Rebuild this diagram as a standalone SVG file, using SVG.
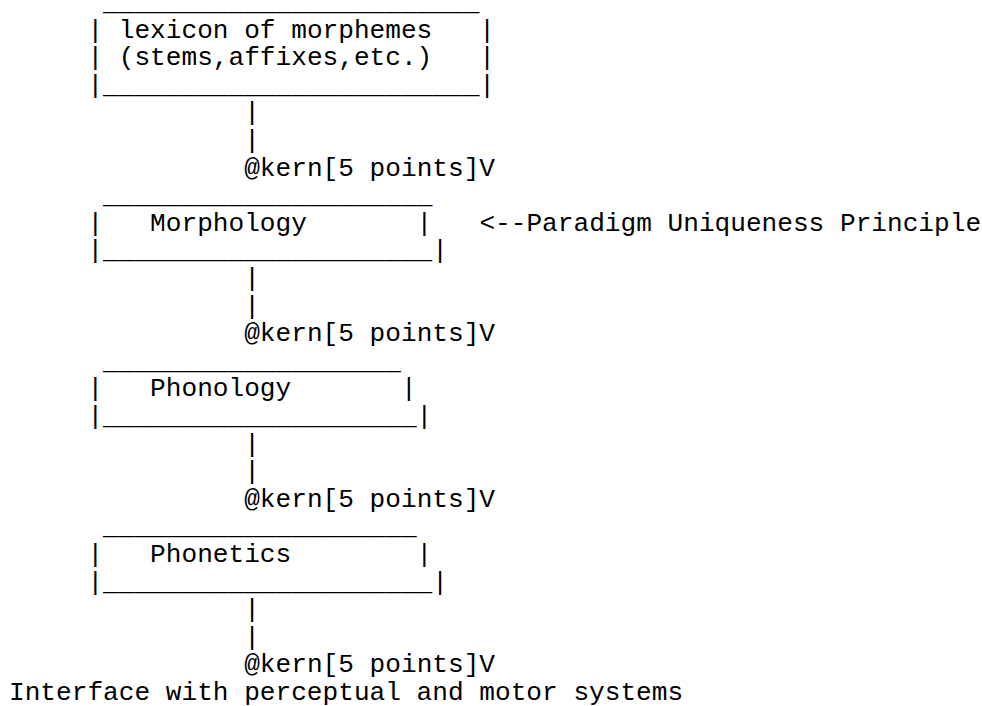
<svg xmlns="http://www.w3.org/2000/svg" width="982" height="706" viewBox="0 0 982 706">
<style>
text { font-family: "Liberation Mono", "Courier New", monospace; font-size: 26.13px; fill: #000; white-space: pre; }
</style>
<rect x="0" y="0" width="982" height="706" fill="#fff"/>
<g id="lexicon">
<text x="103.08" y="10">________________________</text>
<text x="87.4" y="37.6" xml:space="preserve">| lexicon of morphemes   |</text>
<text x="87.4" y="65.2" xml:space="preserve">| (stems,affixes,etc.)   |</text>
<text x="87.4" y="92.8">|________________________|</text>
</g>
<g id="morphology">
<text x="103.08" y="203.2">_____________________</text>
<text x="87.4" y="230.8" xml:space="preserve">|   Morphology       |</text>
<text x="87.4" y="258.4">|_____________________|</text>
</g>
<g id="principle">
<text x="479.4" y="230.8">&lt;--Paradigm Uniqueness Principle</text>
</g>
<g id="phonology">
<text x="103.08" y="368.8">___________________</text>
<text x="87.4" y="396.4" xml:space="preserve">|   Phonology       |</text>
<text x="87.4" y="424">|____________________|</text>
</g>
<g id="phonetics">
<text x="103.08" y="534.4">____________________</text>
<text x="87.4" y="562" xml:space="preserve">|   Phonetics        |</text>
<text x="87.4" y="589.6">|_____________________|</text>
</g>
<g id="interface">
<text x="9" y="700">Interface with perceptual and motor systems</text>
</g>
<g id="connectors">
<text x="244.2" y="120.4">|</text>
<text x="244.2" y="148">|</text>
<text x="244.2" y="175.6">@kern[5 points]V</text>
<text x="244.2" y="286">|</text>
<text x="244.2" y="313.6">|</text>
<text x="244.2" y="341.2">@kern[5 points]V</text>
<text x="244.2" y="451.6">|</text>
<text x="244.2" y="479.2">|</text>
<text x="244.2" y="506.8">@kern[5 points]V</text>
<text x="244.2" y="617.2">|</text>
<text x="244.2" y="644.8">|</text>
<text x="244.2" y="672.4">@kern[5 points]V</text>
</g>
</svg>
